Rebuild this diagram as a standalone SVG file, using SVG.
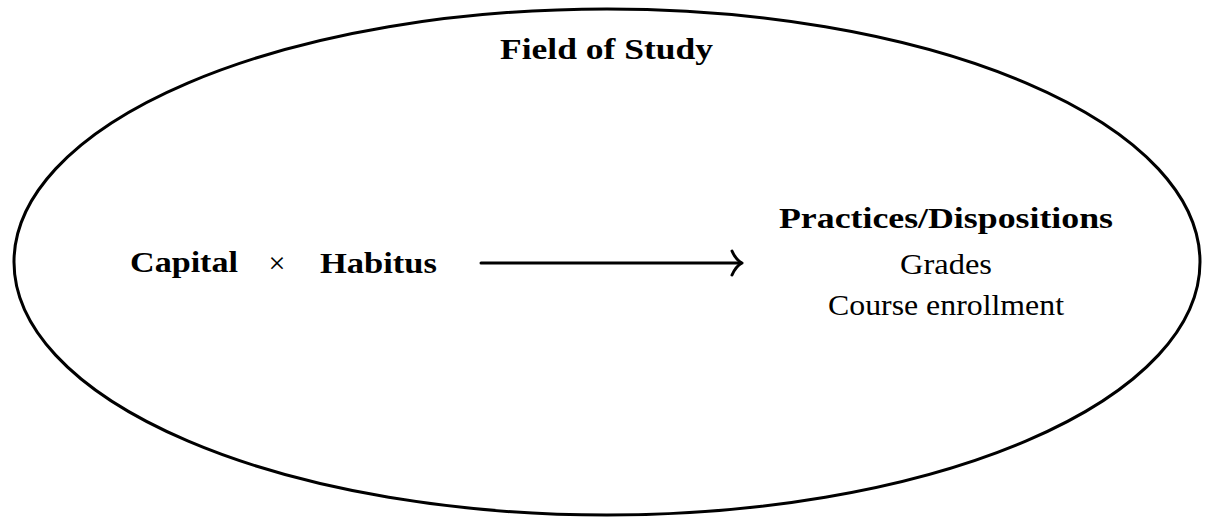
<svg xmlns="http://www.w3.org/2000/svg" width="1207" height="517" viewBox="0 0 1207 517">
<style>
.t{font-family:"Liberation Serif","Times New Roman",serif;font-size:30px;fill:#000}
.b{font-weight:bold}
.ln{fill:none;stroke:#000;stroke-width:3;stroke-linecap:round;stroke-linejoin:round}
</style>
<rect width="1207" height="517" fill="#fff"/>
<g id="field">
<ellipse cx="607" cy="262" rx="593" ry="253" fill="none" stroke="#000" stroke-width="3"/>
<text class="t b" x="606.5" y="59" text-anchor="middle" textLength="213" lengthAdjust="spacingAndGlyphs">Field of Study</text>
</g>
<g id="capital">
<text class="t b" x="130" y="272" textLength="108" lengthAdjust="spacingAndGlyphs">Capital</text>
</g>
<g id="times">
<text class="t" x="277" y="273" text-anchor="middle" font-size="28">×</text>
</g>
<g id="habitus">
<text class="t b" x="320" y="273" textLength="117" lengthAdjust="spacingAndGlyphs">Habitus</text>
</g>
<g id="practices">
<text class="t b" x="946" y="228" text-anchor="middle" textLength="334" lengthAdjust="spacingAndGlyphs">Practices/Dispositions</text>
<text class="t" x="946" y="274" text-anchor="middle" textLength="92" lengthAdjust="spacingAndGlyphs">Grades</text>
<text class="t" x="946" y="315" text-anchor="middle" textLength="236" lengthAdjust="spacingAndGlyphs">Course enrollment</text>
</g>
<g id="connectors">
<line class="ln" x1="481" y1="263" x2="741" y2="263"/>
<path class="ln" stroke-width="3.5" d="M732 251 Q736 260 742 263 Q736 266 732 275"/>
</g>
</svg>
